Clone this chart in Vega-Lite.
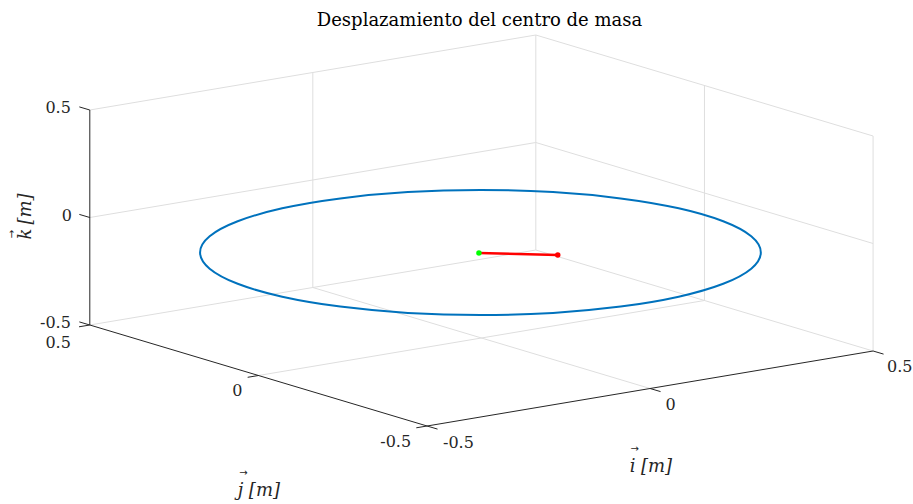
{
  "$schema": "https://vega.github.io/schema/vega-lite/v6.json",
  "width": 913,
  "height": 504,
  "autosize": {"type": "fit", "contains": "padding"},
  "padding": 0,
  "background": "white",
  "config": {"view": {"stroke": null}},
  "datasets": {
    "grid": [
      {"u": 90, "v": 325, "u2": 537, "v2": 250},
      {"u": 90, "v": 217.5, "u2": 537, "v2": 142.5},
      {"u": 90, "v": 110, "u2": 537, "v2": 35},
      {"u": 313.5, "v": 287.5, "u2": 313.5, "v2": 72.5},
      {"u": 537, "v": 250, "u2": 537, "v2": 35},
      {"u": 537, "v": 250, "u2": 875, "v2": 351},
      {"u": 537, "v": 142.5, "u2": 875, "v2": 243.5},
      {"u": 537, "v": 35, "u2": 875, "v2": 136},
      {"u": 706, "v": 300.5, "u2": 706, "v2": 85.5},
      {"u": 875, "v": 351, "u2": 875, "v2": 136},
      {"u": 651.5, "v": 388.5, "u2": 313.5, "v2": 287.5},
      {"u": 259, "v": 375.5, "u2": 706, "v2": 300.5}
    ],
    "axes": [
      {"u": 90, "v": 325, "u2": 90, "v2": 110},
      {"u": 90, "v": 325, "u2": 428, "v2": 426},
      {"u": 428, "v": 426, "u2": 875, "v2": 351},
      {"u": 90, "v": 110, "u2": 79.5, "v2": 106.9},
      {"u": 90, "v": 217.5, "u2": 79.5, "v2": 214.4},
      {"u": 90, "v": 325, "u2": 79.5, "v2": 321.9},
      {"u": 90, "v": 325, "u2": 79.2, "v2": 326.8},
      {"u": 259, "v": 375.5, "u2": 248.2, "v2": 377.3},
      {"u": 428, "v": 426, "u2": 417.2, "v2": 427.8},
      {"u": 428, "v": 426, "u2": 438.5, "v2": 429.1},
      {"u": 651.5, "v": 388.5, "u2": 662, "v2": 391.6},
      {"u": 875, "v": 351, "u2": 885.5, "v2": 354.1}
    ],
    "ticklabels": [
      {"axis": "k", "label": "0.5", "u": 71, "v": 108},
      {"axis": "k", "label": "0", "u": 72, "v": 216},
      {"axis": "k", "label": "-0.5", "u": 71, "v": 323},
      {"axis": "j", "label": "0.5", "u": 71, "v": 343},
      {"axis": "j", "label": "0", "u": 243, "v": 391},
      {"axis": "j", "label": "-0.5", "u": 412, "v": 442},
      {"axis": "i", "label": "-0.5", "u": 444, "v": 443},
      {"axis": "i", "label": "0", "u": 667, "v": 405},
      {"axis": "i", "label": "0.5", "u": 889, "v": 367}
    ],
    "titleletters": [
      {"axis": "i", "label": "i", "u": 634, "v": 467},
      {"axis": "j", "label": "j", "u": 241, "v": 491}
    ],
    "titlearrows": [
      {"axis": "i", "label": "→", "u": 636, "v": 449},
      {"axis": "j", "label": "→", "u": 244, "v": 473}
    ],
    "titleunits": [
      {"axis": "i", "label": "[m]", "u": 658, "v": 467},
      {"axis": "j", "label": "[m]", "u": 265, "v": 491}
    ],
    "kletter": [
      {"axis": "k", "label": "k", "u": 26, "v": 234}
    ],
    "karrow": [
      {"axis": "k", "label": "→", "u": 12, "v": 234}
    ],
    "kunit": [
      {"axis": "k", "label": "[m]", "u": 26, "v": 209}
    ],
    "orbit": [
      {"t": 0, "u": 762.5, "v": 252.5},
      {"t": 15, "u": 752.9, "v": 268.7},
      {"t": 30, "u": 724.8, "v": 283.8},
      {"t": 45, "u": 680.2, "v": 296.7},
      {"t": 60, "u": 622.0, "v": 306.6},
      {"t": 75, "u": 554.2, "v": 312.9},
      {"t": 90, "u": 481.5, "v": 315.0},
      {"t": 105, "u": 408.8, "v": 312.9},
      {"t": 120, "u": 341.0, "v": 306.6},
      {"t": 135, "u": 282.8, "v": 296.7},
      {"t": 150, "u": 238.2, "v": 283.8},
      {"t": 165, "u": 210.1, "v": 268.7},
      {"t": 180, "u": 200.5, "v": 252.5},
      {"t": 195, "u": 210.1, "v": 236.3},
      {"t": 210, "u": 238.2, "v": 221.3},
      {"t": 225, "u": 282.8, "v": 208.3},
      {"t": 240, "u": 341.0, "v": 198.4},
      {"t": 255, "u": 408.8, "v": 192.1},
      {"t": 270, "u": 481.5, "v": 190.0},
      {"t": 285, "u": 554.2, "v": 192.1},
      {"t": 300, "u": 622.0, "v": 198.4},
      {"t": 315, "u": 680.2, "v": 208.3},
      {"t": 330, "u": 724.8, "v": 221.3},
      {"t": 345, "u": 752.9, "v": 236.3}
    ],
    "disp": [
      {"step": "inicio", "order": 0, "u": 480, "v": 253},
      {"step": "fin", "order": 1, "u": 559, "v": 255}
    ]
  },
  "layer": [
    {
      "data": {"name": "grid"},
      "mark": {"type": "rule", "color": "#DEDEDE", "strokeWidth": 1},
      "encoding": {
        "x": {"field": "u", "type": "quantitative", "scale": {"domain": [0, 913], "nice": false, "zero": false}, "axis": null},
        "y": {"field": "v", "type": "quantitative", "scale": {"domain": [0, 504], "reverse": true, "nice": false, "zero": false}, "axis": null},
        "x2": {"field": "u2"},
        "y2": {"field": "v2"}
      }
    },
    {
      "data": {"name": "orbit"},
      "mark": {"type": "line", "color": "#0072BD", "strokeWidth": 2, "interpolate": "cardinal-closed"},
      "encoding": {
        "x": {"field": "u", "type": "quantitative"},
        "y": {"field": "v", "type": "quantitative"},
        "order": {"field": "t", "type": "quantitative"}
      }
    },
    {
      "data": {"name": "disp"},
      "mark": {"type": "line", "color": "#FF0000", "strokeWidth": 2.5},
      "encoding": {
        "x": {"field": "u", "type": "quantitative"},
        "y": {"field": "v", "type": "quantitative"},
        "order": {"field": "order", "type": "quantitative"}
      }
    },
    {
      "data": {"name": "disp"},
      "mark": {"type": "point", "filled": true, "size": 30, "opacity": 1},
      "encoding": {
        "x": {"field": "u", "type": "quantitative"},
        "y": {"field": "v", "type": "quantitative"},
        "color": {"field": "step", "type": "nominal", "scale": {"domain": ["inicio", "fin"], "range": ["#00FF00", "#FF0000"]}, "legend": null}
      }
    },
    {
      "data": {"name": "axes"},
      "mark": {"type": "rule", "color": "#262626", "strokeWidth": 1},
      "encoding": {
        "x": {"field": "u", "type": "quantitative"},
        "y": {"field": "v", "type": "quantitative"},
        "x2": {"field": "u2"},
        "y2": {"field": "v2"}
      }
    },
    {
      "data": {"name": "ticklabels"},
      "transform": [{"filter": "datum.axis !== 'i'"}],
      "mark": {"type": "text", "align": "right", "baseline": "middle", "font": "DejaVu Serif", "fontSize": 16, "color": "#262626"},
      "encoding": {
        "x": {"field": "u", "type": "quantitative"},
        "y": {"field": "v", "type": "quantitative"},
        "text": {"field": "label"}
      }
    },
    {
      "data": {"name": "ticklabels"},
      "transform": [{"filter": "datum.axis === 'i'"}],
      "mark": {"type": "text", "align": "left", "baseline": "middle", "font": "DejaVu Serif", "fontSize": 16, "color": "#262626"},
      "encoding": {
        "x": {"field": "u", "type": "quantitative"},
        "y": {"field": "v", "type": "quantitative"},
        "text": {"field": "label"}
      }
    },
    {
      "data": {"name": "titleletters"},
      "mark": {"type": "text", "align": "center", "baseline": "middle", "font": "DejaVu Serif", "fontSize": 18, "fontStyle": "italic", "color": "#262626"},
      "encoding": {
        "x": {"field": "u", "type": "quantitative"},
        "y": {"field": "v", "type": "quantitative"},
        "text": {"field": "label"}
      }
    },
    {
      "data": {"name": "titlearrows"},
      "mark": {"type": "text", "align": "center", "baseline": "middle", "font": "DejaVu Sans", "fontSize": 10, "color": "#262626"},
      "encoding": {
        "x": {"field": "u", "type": "quantitative"},
        "y": {"field": "v", "type": "quantitative"},
        "text": {"field": "label"}
      }
    },
    {
      "data": {"name": "titleunits"},
      "mark": {"type": "text", "align": "center", "baseline": "middle", "font": "DejaVu Serif", "fontSize": 18, "fontStyle": "italic", "color": "#262626"},
      "encoding": {
        "x": {"field": "u", "type": "quantitative"},
        "y": {"field": "v", "type": "quantitative"},
        "text": {"field": "label"}
      }
    },
    {
      "data": {"name": "kletter"},
      "mark": {"type": "text", "align": "center", "baseline": "middle", "angle": 270, "font": "DejaVu Serif", "fontSize": 18, "fontStyle": "italic", "color": "#262626"},
      "encoding": {
        "x": {"field": "u", "type": "quantitative"},
        "y": {"field": "v", "type": "quantitative"},
        "text": {"field": "label"}
      }
    },
    {
      "data": {"name": "karrow"},
      "mark": {"type": "text", "align": "center", "baseline": "middle", "angle": 270, "font": "DejaVu Sans", "fontSize": 10, "color": "#262626"},
      "encoding": {
        "x": {"field": "u", "type": "quantitative"},
        "y": {"field": "v", "type": "quantitative"},
        "text": {"field": "label"}
      }
    },
    {
      "data": {"name": "kunit"},
      "mark": {"type": "text", "align": "center", "baseline": "middle", "angle": 270, "font": "DejaVu Serif", "fontSize": 18, "fontStyle": "italic", "color": "#262626"},
      "encoding": {
        "x": {"field": "u", "type": "quantitative"},
        "y": {"field": "v", "type": "quantitative"},
        "text": {"field": "label"}
      }
    }
  ],
  "title": {"text": "Desplazamiento del centro de masa", "font": "DejaVu Serif", "fontSize": 18, "fontWeight": "normal", "color": "#000000", "anchor": "middle", "offset": -30, "dx": 24}
}
